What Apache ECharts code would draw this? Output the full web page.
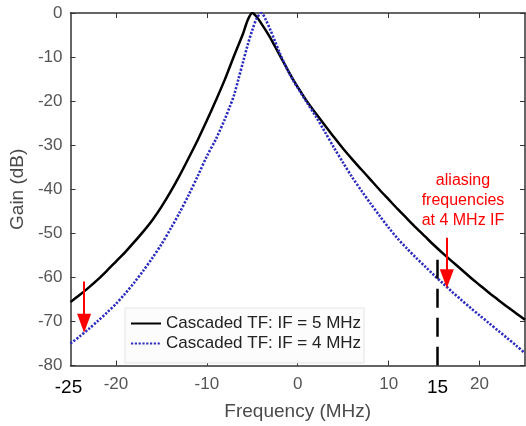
<!DOCTYPE html>
<html><head><meta charset="utf-8">
<script src="https://cdn.jsdelivr.net/npm/echarts@6/dist/echarts.min.js"></script>
<style>html,body{margin:0;padding:0;background:#fff}#c{width:526px;height:426px}</style>
</head><body><div id="c"></div>
<script>
// Cascaded TF, IF = 5 MHz (solid black)
const freqIF5 = [-25,-24,-23,-22,-21,-20,-19,-18,-17,-16,-15,-14,-13,-12,-11,-10,-9,-8,-7,-6,-5.5,-5,-4.5,-4,-3.5,-3,-2.5,-2,-1.5,-1,-0.5,0,1,2,3,4,5,6,7,8,9,10,11,12,13,14,15,16,17,18,19,20,21,22,23,24,25];
const gainIF5 = [-65.6,-64.0,-62.3,-60.5,-58.5,-56.4,-54.3,-52.0,-49.6,-47.0,-44.0,-40.6,-36.9,-32.9,-28.8,-24.4,-19.8,-15.0,-9.7,-4.6,-1.6,0,-0.9,-2.4,-4.0,-5.7,-7.6,-9.5,-11.4,-13.3,-15.1,-16.8,-20.0,-22.8,-25.5,-28.2,-30.8,-33.2,-35.5,-37.8,-40.1,-42.3,-44.5,-46.6,-48.7,-50.7,-52.7,-54.6,-56.4,-58.2,-60.0,-61.7,-63.4,-65.0,-66.6,-68.1,-69.6];
// Cascaded TF, IF = 4 MHz (dotted blue)
const freqIF4 = [-25,-24,-23,-22,-21,-20,-19,-18,-17,-16,-15,-14,-13,-12,-11,-10,-9,-8,-7.5,-7,-6.5,-6,-5.5,-5,-4.5,-4,-3.5,-3,-2.5,-2,-1.5,-1,-0.5,0,1,2,3,4,5,6,7,8,9,10,11,12,13,14,15,16,17,18,19,20,21,22,23,24,25];
const gainIF4 = [-75.0,-73.4,-71.7,-69.9,-68.0,-66.0,-63.7,-61.2,-58.5,-55.6,-52.5,-49.0,-45.3,-41.3,-37.0,-32.5,-28.6,-24.0,-21.4,-18.6,-14.8,-11.0,-7.2,-3.9,-1.2,0,-1.6,-3.9,-6.4,-9.0,-11.3,-13.4,-15.3,-17.0,-20.3,-23.5,-27.0,-30.6,-34.0,-37.3,-40.3,-43.2,-46.0,-48.7,-51.2,-53.4,-55.5,-57.5,-59.5,-61.4,-63.3,-65.1,-66.9,-68.6,-70.3,-72.0,-73.7,-75.4,-77.2];

const xTickValues = [-20,-10,0,10,20];
const xLabelValues = [-25,-20,-10,0,10,15,20];
const bigLabels = [-25,15];
const annotationText = 'aliasing\nfrequencies\nat 4 MHz IF';
const arrowLeft = [[-23.5,-60.9],[-23.5,-70.4]];
const arrowRight = [[16.4,-51.0],[16.4,-60.3]];
const dashedLine = [[15.3,-56.0],[15.3,-80]];

const FONT = 'Liberation Sans, Arial, sans-serif';
const chart = echarts.init(document.getElementById('c'), null, {renderer:'canvas'});
const arrowSym = 'path://M7,0 L14,19 L0,19 Z';
const axisLineStyle = {color:'#333', width:1.5};
const tickStyle = {color:'#333', width:1};

chart.setOption({
  animation:false,
  textStyle:{fontFamily:FONT},
  grid:{left:68, right:1, top:13, bottom:56, containLabel:false},
  legend:{
    orient:'vertical', left:125, top:308,
    itemWidth:30, itemHeight:14, itemGap:3,
    padding:[7,3,11,5],
    itemStyle:{opacity:0},
    backgroundColor:'#fcfcfc', borderColor:'#e4e4e4', borderWidth:1,
    textStyle:{fontSize:17, color:'#222', fontFamily:FONT}
  },
  xAxis:[{
    type:'value', min:-25, max:25, position:'bottom',
    axisLine:{show:true, onZero:false, lineStyle:axisLineStyle},
    axisTick:{show:true, inside:true, length:5, customValues:xTickValues, lineStyle:tickStyle},
    axisLabel:{
      customValues:xLabelValues, color:'#555', fontSize:17, margin:10,
      formatter:function(v){
        if (v === 15) return '{bigR|' + v + '}';
        if (v === -25) return '{bigL|' + v + '}';
        return String(v);
      },
      rich:{
        bigL:{fontSize:19, color:'#000', lineHeight:24, fontFamily:FONT, padding:[0,4,0,0]},
        bigR:{fontSize:19, color:'#000', lineHeight:24, fontFamily:FONT, padding:[0,0,0,7]}
      }
    },
    splitLine:{show:false},
    name:'Frequency (MHz)', nameLocation:'middle', nameGap:31,
    nameTextStyle:{fontSize:19, color:'#4a4a4a'}
  },{
    type:'value', min:-25, max:25, position:'top',
    axisLine:{show:true, onZero:false, lineStyle:axisLineStyle},
    axisTick:{show:true, inside:true, length:5, customValues:xTickValues, lineStyle:tickStyle},
    axisLabel:{show:false}, splitLine:{show:false}
  }],
  yAxis:[{
    type:'value', min:-80, max:0, interval:10, position:'left',
    axisLine:{show:true, onZero:false, lineStyle:axisLineStyle},
    axisTick:{show:true, inside:true, length:5, lineStyle:tickStyle},
    axisLabel:{color:'#555', fontSize:17, margin:8},
    splitLine:{show:false},
    name:'Gain (dB)', nameLocation:'middle', nameGap:38, nameRotate:90,
    nameTextStyle:{fontSize:19, color:'#4a4a4a'}
  },{
    type:'value', min:-80, max:0, interval:10, position:'right',
    axisLine:{show:true, onZero:false, lineStyle:axisLineStyle},
    axisTick:{show:true, inside:true, length:5, lineStyle:tickStyle},
    axisLabel:{show:false}, splitLine:{show:false}
  }],
  graphic:[{
    type:'text', x:463, y:171,
    style:{text:annotationText, fill:'#ff0000', font:'16px ' + FONT, textAlign:'center', lineHeight:20}
  }],
  series:[{
    name:'Cascaded TF: IF = 5 MHz', type:'line', symbol:'none', smooth:0.3,
    data:freqIF5.map(function(f,i){ return [f, gainIF5[i]]; }),
    lineStyle:{color:'#000', width:2.5}, itemStyle:{color:'#000'},
    z:2,
    markLine:{
      silent:true, label:{show:false}, animation:false,
      symbol:['none','none'],
      data:[
        [{coord:dashedLine[0], lineStyle:{color:'#000', width:2.5, type:[19,10]}}, {coord:dashedLine[1]}],
        [{coord:arrowLeft[0], lineStyle:{color:'#ff0000', width:2, type:'solid'}}, {coord:arrowLeft[1], symbol:arrowSym, symbolSize:19, symbolKeepAspect:true}],
        [{coord:arrowRight[0], lineStyle:{color:'#ff0000', width:2, type:'solid'}}, {coord:arrowRight[1], symbol:arrowSym, symbolSize:19, symbolKeepAspect:true}]
      ]
    }
  },{
    name:'Cascaded TF: IF = 4 MHz', type:'line', symbol:'none', smooth:0.3,
    data:freqIF4.map(function(f,i){ return [f, gainIF4[i]]; }),
    lineStyle:{color:'#2b2bbf', width:2.6, type:[2.2,1.6]}, itemStyle:{color:'#2b2bbf'},
    z:3
  }]
});
</script></body></html>
